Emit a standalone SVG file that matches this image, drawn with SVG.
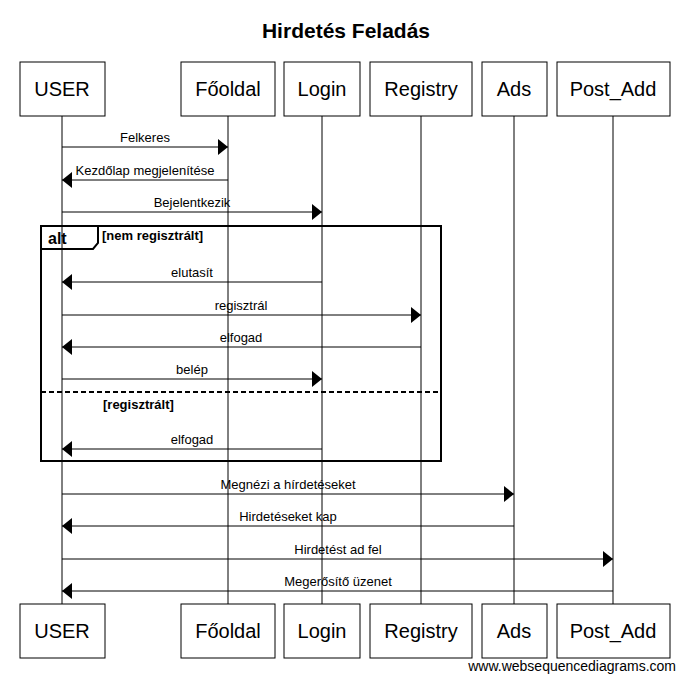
<svg xmlns="http://www.w3.org/2000/svg" width="691" height="698" viewBox="0 0 691 698">
<style>
text{font-family:"Liberation Sans",Arial,sans-serif;fill:#000}
.title{font-size:21px;font-weight:bold;text-anchor:middle}
.box{fill:#fff;stroke:#000;stroke-width:1}
.pname{font-size:20px;text-anchor:middle}
.life{stroke:#000;stroke-width:1}
.msg{stroke:#000;stroke-width:1;fill:none}
.lbl{font-size:13px;text-anchor:middle}
.frame{fill:none;stroke:#000;stroke-width:2}
.cond{font-size:13px;font-weight:bold}
.wm{font-size:14px;text-anchor:end}
</style>
<defs>
<marker id="ah" viewBox="0 0 10 16" refX="10" refY="8" markerWidth="10" markerHeight="16" markerUnits="userSpaceOnUse" orient="auto">
<path d="M0,0 L10,8 L0,16 Z" fill="#000"/>
</marker>
</defs>
<rect width="691" height="698" fill="#fff"/>
<text class="title" x="346" y="38">Hirdetés Feladás</text>

<g id="lifelines">
<line class="life" x1="62" y1="116" x2="62" y2="604"/>
<line class="life" x1="228" y1="116" x2="228" y2="604"/>
<line class="life" x1="322" y1="116" x2="322" y2="604"/>
<line class="life" x1="421" y1="116" x2="421" y2="604"/>
<line class="life" x1="514" y1="116" x2="514" y2="604"/>
<line class="life" x1="613" y1="116" x2="613" y2="604"/>
</g>

<g id="alt-frame">
<rect class="frame" x="41" y="226" width="400" height="235"/>
<path class="frame" d="M41,249 L93,249 L98,243 L98,226"/>
<text x="48" y="244" style="font-size:16px;font-weight:bold">alt</text>
<text class="cond" x="102" y="240">[nem regisztrált]</text>
<line x1="41" y1="392" x2="441" y2="392" stroke="#000" stroke-width="2" stroke-dasharray="5,3"/>
<text class="cond" x="103" y="409">[regisztrált]</text>
</g>

<g id="connectors">
<line class="msg" x1="62" y1="147" x2="228" y2="147" marker-end="url(#ah)"/>
<text class="lbl" x="145" y="142">Felkeres</text>
<line class="msg" x1="228" y1="180" x2="62" y2="180" marker-end="url(#ah)"/>
<text class="lbl" x="145" y="175">Kezdőlap megjelenítése</text>
<line class="msg" x1="62" y1="212" x2="322" y2="212" marker-end="url(#ah)"/>
<text class="lbl" x="192" y="207">Bejelentkezik</text>
<line class="msg" x1="322" y1="282" x2="62" y2="282" marker-end="url(#ah)"/>
<text class="lbl" x="192" y="277">elutasít</text>
<line class="msg" x1="62" y1="315" x2="421" y2="315" marker-end="url(#ah)"/>
<text class="lbl" x="241" y="310">regisztrál</text>
<line class="msg" x1="421" y1="347" x2="62" y2="347" marker-end="url(#ah)"/>
<text class="lbl" x="241" y="342">elfogad</text>
<line class="msg" x1="62" y1="379" x2="322" y2="379" marker-end="url(#ah)"/>
<text class="lbl" x="192" y="374">belép</text>
<line class="msg" x1="322" y1="449" x2="62" y2="449" marker-end="url(#ah)"/>
<text class="lbl" x="192" y="444">elfogad</text>
<line class="msg" x1="62" y1="494" x2="514" y2="494" marker-end="url(#ah)"/>
<text class="lbl" x="288" y="489">Megnézi a hírdetéseket</text>
<line class="msg" x1="514" y1="526" x2="62" y2="526" marker-end="url(#ah)"/>
<text class="lbl" x="288" y="521">Hirdetéseket kap</text>
<line class="msg" x1="62" y1="559" x2="613" y2="559" marker-end="url(#ah)"/>
<text class="lbl" x="338" y="554">Hirdetést ad fel</text>
<line class="msg" x1="613" y1="591" x2="62" y2="591" marker-end="url(#ah)"/>
<text class="lbl" x="338" y="586">Megerősítő üzenet</text>
</g>

<g id="USER">
<rect class="box" x="20" y="62" width="85" height="54"/>
<text class="pname" x="62" y="96">USER</text>
<rect class="box" x="20" y="604" width="85" height="54"/>
<text class="pname" x="62" y="638">USER</text>
</g>
<g id="Fooldal">
<rect class="box" x="181" y="62" width="94" height="54"/>
<text class="pname" x="228" y="96">Főoldal</text>
<rect class="box" x="181" y="604" width="94" height="54"/>
<text class="pname" x="228" y="638">Főoldal</text>
</g>
<g id="Login">
<rect class="box" x="284" y="62" width="76" height="54"/>
<text class="pname" x="322" y="96">Login</text>
<rect class="box" x="284" y="604" width="76" height="54"/>
<text class="pname" x="322" y="638">Login</text>
</g>
<g id="Registry">
<rect class="box" x="370" y="62" width="102" height="54"/>
<text class="pname" x="421" y="96">Registry</text>
<rect class="box" x="370" y="604" width="102" height="54"/>
<text class="pname" x="421" y="638">Registry</text>
</g>
<g id="Ads">
<rect class="box" x="482" y="62" width="65" height="54"/>
<text class="pname" x="514" y="96">Ads</text>
<rect class="box" x="482" y="604" width="65" height="54"/>
<text class="pname" x="514" y="638">Ads</text>
</g>
<g id="Post_Add">
<rect class="box" x="557" y="62" width="113" height="54"/>
<text class="pname" x="613" y="96">Post_Add</text>
<rect class="box" x="557" y="604" width="113" height="54"/>
<text class="pname" x="613" y="638">Post_Add</text>
</g>

<text class="wm" x="676" y="671">www.websequencediagrams.com</text>
</svg>
